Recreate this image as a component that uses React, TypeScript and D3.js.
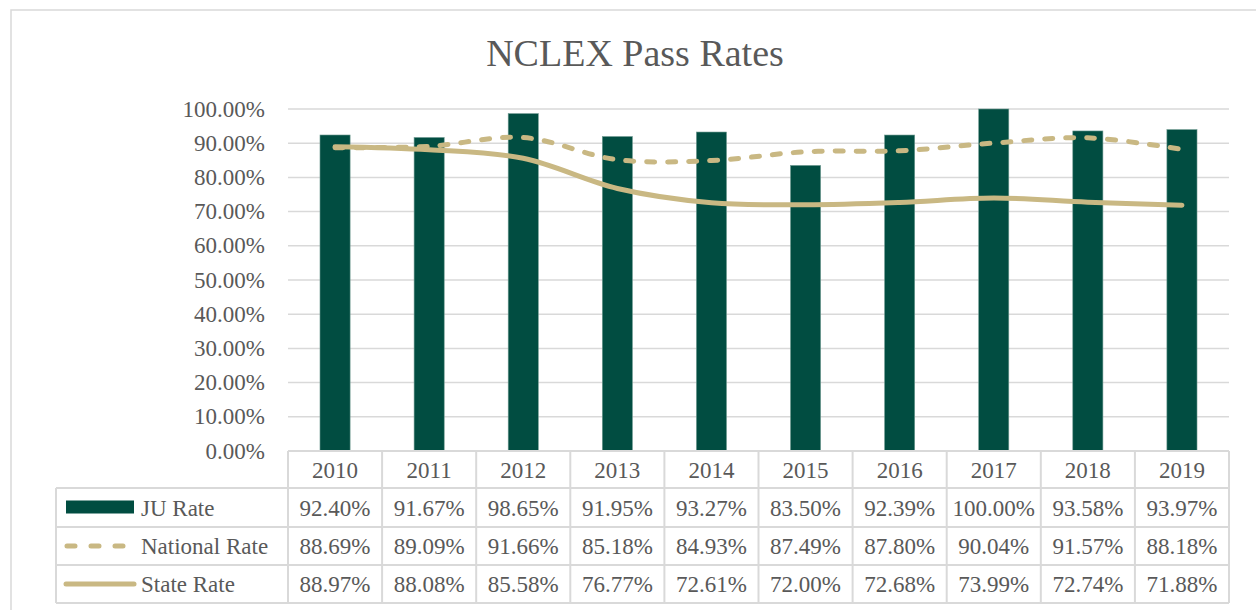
import * as d3 from "d3";

const years = ["2010", "2011", "2012", "2013", "2014", "2015", "2016", "2017", "2018", "2019"];
const juRate = [0.924, 0.9167, 0.9865, 0.9195, 0.9327, 0.835, 0.9239, 1.0, 0.9358, 0.9397];
const nationalRate = [0.8869, 0.8909, 0.9166, 0.8518, 0.8493, 0.8749, 0.878, 0.9004, 0.9157, 0.8818];
const stateRate = [0.8897, 0.8808, 0.8558, 0.7677, 0.7261, 0.72, 0.7268, 0.7399, 0.7274, 0.7188];
const yTicks = [0, 0.1, 0.2, 0.3, 0.4, 0.5, 0.6, 0.7, 0.8, 0.9, 1.0];
const seriesNames = ["JU Rate", "National Rate", "State Rate"];

const W = 1256;
const H = 610;
const green = "#014d41";
const gold = "#c9b883";
const grid = "#d9d9d9";
const textColor = "#595959";
const font = "'Liberation Serif', serif";

const App = () => {
  const left = 288;
  const right = 1229;
  const top = 109;
  const bottom = 451;
  const rowEdges = [451, 488, 527, 565, 603];
  const legendLeft = 56;

  const x = d3.scaleBand().domain(years).range([left, right]);
  const y = d3.scaleLinear().domain([0, 1]).range([bottom, top]);
  const pct = d3.format(".2%");
  const barW = x.bandwidth() * 0.32;
  const cx = (yr: string) => (x(yr) as number) + x.bandwidth() / 2;

  const line = d3
    .line<number>()
    .x((_, i) => cx(years[i]))
    .y((d) => y(d))
    .curve(d3.curveCatmullRom.alpha(0.5));

  const rows = [juRate, nationalRate, stateRate];

  return (
    <svg width={W} height={H} style={{ position: "absolute", left: 0, top: 0 }}>
      <rect x={0} y={0} width={W} height={H} fill="#fff" />
      <rect x={11} y={10} width={W} height={H} fill="none" stroke={grid} strokeWidth={1.5} />

      <text x={635} y={66} textAnchor="middle" fontFamily={font} fontSize={38} fill={textColor}>
        NCLEX Pass Rates
      </text>

      {yTicks.map((t) => (
        <g key={t}>
          {t > 0 && <line x1={left} x2={right} y1={y(t)} y2={y(t)} stroke={grid} strokeWidth={1.5} />}
          <text
            x={265}
            y={y(t)}
            dy="0.33em"
            textAnchor="end"
            fontFamily={font}
            fontSize={23}
            fill={textColor}
          >
            {pct(t)}
          </text>
        </g>
      ))}

      {years.map((yr, i) => (
        <rect
          key={yr}
          x={cx(yr) - barW / 2}
          y={y(juRate[i])}
          width={barW}
          height={bottom - y(juRate[i])}
          fill={green}
          stroke="#6f9a91"
          strokeWidth={0.6}
        />
      ))}

      <path
        d={line(nationalRate) || ""}
        fill="none"
        stroke={gold}
        strokeWidth={5}
        strokeLinecap="round"
        strokeDasharray="8 13"
      />
      <path
        d={line(stateRate) || ""}
        fill="none"
        stroke={gold}
        strokeWidth={5}
        strokeLinecap="round"
        strokeLinejoin="round"
      />

      {/* data table */}
      <g stroke={grid} strokeWidth={2} fill="none">
        <line x1={left} x2={right} y1={rowEdges[0]} y2={rowEdges[0]} />
        {rowEdges.slice(1).map((ry) => (
          <line key={ry} x1={legendLeft} x2={right} y1={ry} y2={ry} />
        ))}
        {years.map((yr) => (
          <line key={yr} x1={x(yr) as number} x2={x(yr) as number} y1={rowEdges[0]} y2={rowEdges[4]} />
        ))}
        <line x1={right} x2={right} y1={rowEdges[0]} y2={rowEdges[4]} />
        <line x1={legendLeft} x2={legendLeft} y1={rowEdges[1]} y2={rowEdges[4]} />
      </g>

      {years.map((yr) => (
        <text
          key={yr}
          x={cx(yr)}
          y={(rowEdges[0] + rowEdges[1]) / 2}
          dy="0.35em"
          textAnchor="middle"
          fontFamily={font}
          fontSize={23}
          fill={textColor}
        >
          {yr}
        </text>
      ))}

      {rows.map((vals, r) => {
        const my = (rowEdges[r + 1] + rowEdges[r + 2]) / 2;
        return (
          <g key={r}>
            {r === 0 && <rect x={66} y={my - 7} width={68} height={13} fill={green} />}
            {r === 1 && (
              <line
                x1={67}
                x2={127}
                y1={my}
                y2={my}
                stroke={gold}
                strokeWidth={5}
                strokeLinecap="round"
                strokeDasharray="8 16"
              />
            )}
            {r === 2 && (
              <line x1={66} x2={134} y1={my} y2={my} stroke={gold} strokeWidth={5} strokeLinecap="round" />
            )}
            <text x={141} y={my} dy="0.35em" fontFamily={font} fontSize={23} fill={textColor}>
              {seriesNames[r]}
            </text>
            {vals.map((v, i) => (
              <text
                key={i}
                x={cx(years[i])}
                y={my}
                dy="0.35em"
                textAnchor="middle"
                fontFamily={font}
                fontSize={23}
                fill={textColor}
              >
                {pct(v)}
              </text>
            ))}
          </g>
        );
      })}
    </svg>
  );
};

export default App;
